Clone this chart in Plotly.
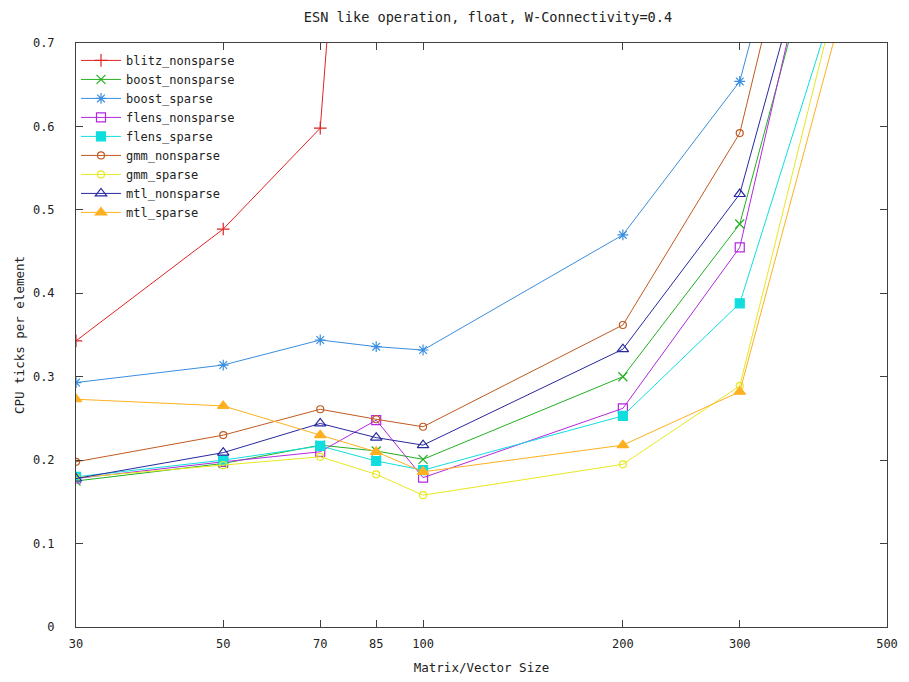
import plotly.graph_objects as go

sizes = [30, 50, 70, 85, 100, 200, 300, 500]
blitz_sizes = [30, 50, 70, 85]

blitz_nonsparse = [0.343, 0.477, 0.598, 1.47]
boost_nonsparse = [0.175, 0.196, 0.218, 0.211, 0.201, 0.300, 0.483, 1.14]
boost_sparse = [0.293, 0.314, 0.344, 0.336, 0.332, 0.470, 0.654, 1.32]
flens_nonsparse = [0.178, 0.198, 0.210, 0.248, 0.179, 0.262, 0.455, 1.22]
flens_sparse = [0.180, 0.200, 0.217, 0.199, 0.188, 0.253, 0.388, 0.95]
gmm_nonsparse = [0.198, 0.230, 0.261, 0.249, 0.240, 0.362, 0.592, 1.32]
gmm_sparse = [0.179, 0.194, 0.204, 0.183, 0.158, 0.195, 0.289, 1.00]
mtl_nonsparse = [0.178, 0.209, 0.244, 0.227, 0.218, 0.333, 0.519, 1.16]
mtl_sparse = [0.273, 0.265, 0.230, 0.210, 0.186, 0.218, 0.282, 0.94]

series = [
    ("blitz_nonsparse", blitz_sizes, blitz_nonsparse, "#e02424", "cross-thin-open", 9),
    ("boost_nonsparse", sizes, boost_nonsparse, "#22b022", "x-thin-open", 9),
    ("boost_sparse", sizes, boost_sparse, "#3a8ee0", "asterisk-open", 9),
    ("flens_nonsparse", sizes, flens_nonsparse, "#b428e0", "square-open", 9),
    ("flens_sparse", sizes, flens_sparse, "#10dede", "square", 9),
    ("gmm_nonsparse", sizes, gmm_nonsparse, "#c05a20", "circle-open", 7),
    ("gmm_sparse", sizes, gmm_sparse, "#e8e820", "circle-open", 7),
    ("mtl_nonsparse", sizes, mtl_nonsparse, "#2828a0", "triangle-up-open", 10),
    ("mtl_sparse", sizes, mtl_sparse, "#ffb020", "triangle-up", 10),
]

font_family = "DejaVu Sans Mono, Liberation Mono, monospace"

fig = go.Figure()
for name, xs, ys, color, sym, sz in series:
    fig.add_trace(go.Scatter(
        x=xs, y=ys, name=name, mode="lines+markers",
        line=dict(color=color, width=1),
        marker=dict(symbol=sym, size=sz, color=color,
                    line=dict(color=color, width=1.2)),
    ))

fig.update_layout(
    width=909, height=682,
    paper_bgcolor="white", plot_bgcolor="white",
    margin=dict(l=68, r=30, t=35, b=63, autoexpand=False),
    font=dict(family=font_family, size=12, color="#222222"),
    title=dict(text="ESN like operation, float, W-Connectivity=0.4",
               x=480 / 909, xanchor="center", xref="container",
               y=1 - 9 / 682, yanchor="middle", yref="container",
               font=dict(family=font_family, size=13.6, color="#222222")),
    showlegend=True,
    legend=dict(x=0.0, y=0.995, xanchor="left", yanchor="top",
                bgcolor="rgba(0,0,0,0)", borderwidth=0,
                font=dict(family=font_family, size=12, color="#222222"),
                itemwidth=40, tracegroupgap=0),
)

fig.update_xaxes(
    type="log", range=[1.4771213, 2.69897], automargin=False,
    tickvals=sizes, ticktext=[str(s) for s in sizes],
    ticks="inside", ticklen=7, tickcolor="#404040",
    showline=True, linecolor="#404040", linewidth=1, mirror="ticks",
    showgrid=False, zeroline=False, ticklabelstandoff=6,
    title=dict(text="Matrix/Vector Size", standoff=12,
               font=dict(family=font_family, size=12.5)),
)
fig.update_yaxes(
    range=[0, 0.7], automargin=False,
    tickvals=[0, 0.1, 0.2, 0.3, 0.4, 0.5, 0.6, 0.7],
    ticktext=["0", "0.1", "0.2", "0.3", "0.4", "0.5", "0.6", "0.7"],
    ticks="inside", ticklen=7, tickcolor="#404040",
    showline=True, linecolor="#404040", linewidth=1, mirror="ticks",
    showgrid=False, zeroline=False, ticklabelstandoff=18,
    title=dict(text="CPU ticks per element", standoff=5,
               font=dict(family=font_family, size=12.5)),
)

fig.write_html("out.html")
